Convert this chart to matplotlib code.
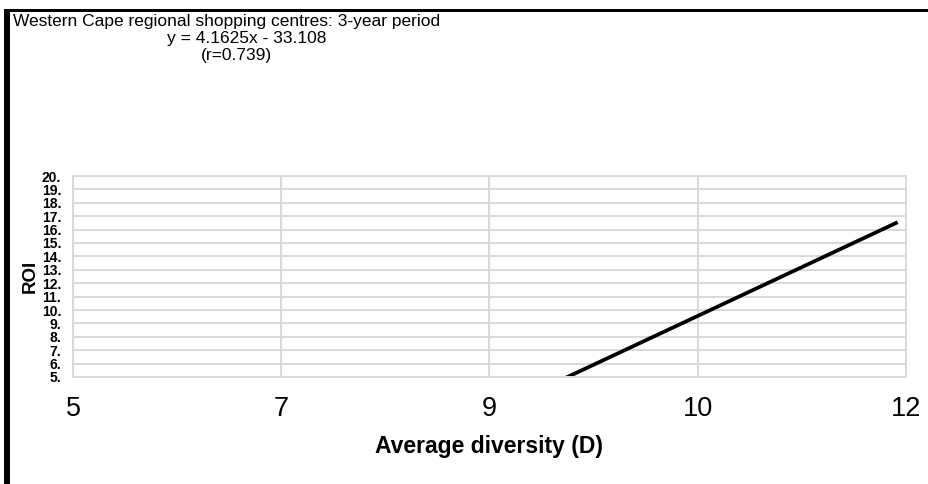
import matplotlib.pyplot as plt
from matplotlib.patches import Rectangle

plt.rcParams['font.family'] = ['Liberation Sans', 'DejaVu Sans']

# trendline y = slope*x + intercept over the range of the data
slope = 4.1625
intercept = -33.108
x_range = [9.0, 11.93]
y_line = [slope * x + intercept for x in x_range]

x_ticks = [5, 6.75, 8.5, 10.25, 12]
x_labels = ['5', '7', '9', '10', '12']
y_ticks = list(range(5, 21))
y_labels = [str(v) + '.' for v in y_ticks]

W, H = 929, 484
fig = plt.figure(figsize=(W / 100, H / 100), dpi=100)
ax = fig.add_axes([73 / W, 1 - 377 / H, (906 - 73) / W, (377 - 176) / H])

grid_col = '#d9d9d9'
ax.set_xlim(5, 12)
ax.set_ylim(5, 20)
ax.set_xticks(x_ticks)
ax.set_xticklabels(x_labels, fontsize=19.5)
ax.set_yticks(y_ticks)
ax.set_yticklabels(y_labels, fontsize=10, fontweight='bold')
ax.tick_params(length=0)
ax.tick_params(axis='y', pad=8.5)
ax.tick_params(axis='x', pad=14)
ax.grid(True, color=grid_col, lw=1.4)
ax.set_axisbelow(True)
for s in ax.spines.values():
    s.set_color(grid_col)
    s.set_linewidth(1.4)

ax.plot(x_range, y_line, color='black', lw=2.7, solid_capstyle='butt')

ax.set_xlabel('Average diversity (D)', fontsize=16.5, fontweight='bold')
ax.xaxis.set_label_coords(0.5, -0.29)
ax.set_ylabel('ROI', fontsize=13.5, fontweight='bold')
ax.yaxis.set_label_coords(-0.041, 0.5)

fig.text(13 / W, 1 - 21.5 / H, 'Western Cape regional shopping centres: 3-year period',
         ha='left', va='center', fontsize=12.5)
fig.text(247 / W, 1 - 38.5 / H, 'y = 4.1625x - 33.108',
         ha='center', va='center', fontsize=12.5)
fig.text(236 / W, 1 - 55.5 / H, '(r=0.739)',
         ha='center', va='center', fontsize=12.5)

# frame lines at the top and left edge
fig.add_artist(Rectangle((4 / W, 0), 6 / W, 1 - 9 / H, transform=fig.transFigure,
                         color='black', lw=0))
fig.add_artist(Rectangle((4 / W, 1 - 12 / H), 1, 3 / H, transform=fig.transFigure,
                         color='black', lw=0))

fig.savefig('out.png', dpi=100)
